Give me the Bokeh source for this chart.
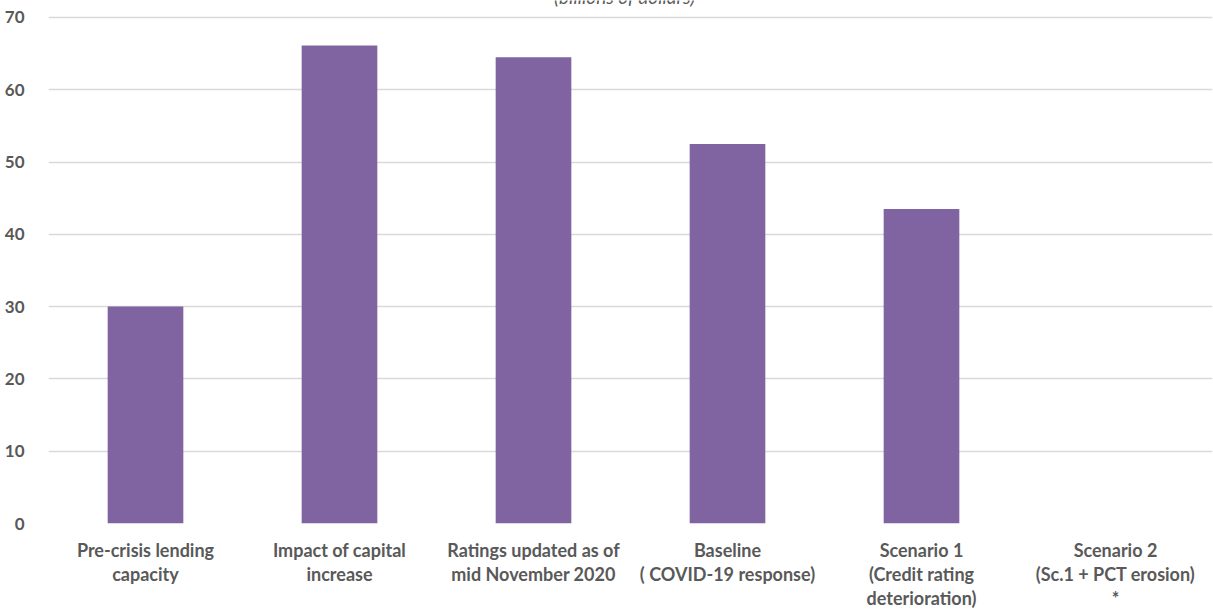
from bokeh.plotting import figure
from bokeh.models import ColumnDataSource, FactorRange, Label, FixedTicker
from bokeh.embed import file_html
from bokeh.resources import INLINE

categories = [
    "Pre-crisis lending\ncapacity",
    "Impact of capital\nincrease",
    "Ratings updated as of\nmid November 2020",
    "Baseline\n( COVID-19 response)",
    "Scenario 1\n(Credit rating\ndeterioration)",
    "Scenario 2\n(Sc.1 + PCT erosion)\n*",
]
values = [30.0, 66.1, 64.5, 52.5, 43.5, 0.0]
y_ticks = [0, 10, 20, 30, 40, 50, 60, 70]
subtitle = "(billions of dollars)"

GRAY = "#595959"
FONT = "Lato"

src = ColumnDataSource(data=dict(x=categories, top=values))

p = figure(
    x_range=FactorRange(*categories), y_range=(0, 72.34),
    width=1213, height=611, output_backend="svg", toolbar_location=None,
    min_border_left=48, min_border_right=1, min_border_top=0, min_border_bottom=86,
)
p.vbar(x="x", top="top", width=0.39, source=src, fill_color="#8064A2", line_color=None)

p.outline_line_color = None
p.xgrid.grid_line_color = None
p.ygrid.grid_line_color = "#d9d9d9"
p.ygrid.grid_line_width = 1.5
p.ygrid.level = "underlay"

p.yaxis.ticker = FixedTicker(ticks=y_ticks)
p.yaxis.axis_line_color = None
p.yaxis.major_tick_line_color = None
p.yaxis.minor_tick_line_color = None
p.yaxis.major_label_standoff = 18
p.yaxis.major_label_text_font = FONT
p.yaxis.major_label_text_font_style = "bold"
p.yaxis.major_label_text_font_size = "17px"
p.yaxis.major_label_text_color = GRAY

p.xaxis.axis_line_color = None
p.xaxis.major_tick_line_color = None
p.xaxis.major_tick_out = 0
p.xaxis.major_tick_in = 0
p.xaxis.major_label_standoff = 15
p.xaxis.major_label_text_font = FONT
p.xaxis.major_label_text_font_style = "bold"
p.xaxis.major_label_text_font_size = "18px"
p.xaxis.major_label_text_color = GRAY
p.xaxis.major_label_text_line_height = 1.1

p.add_layout(Label(x=2.97, y=71.35, text=subtitle, text_align="center",
                   text_baseline="bottom", text_font=FONT, text_font_style="italic",
                   text_font_size="19px", text_color=GRAY))

open("out.html", "w").write(file_html(p, INLINE))
